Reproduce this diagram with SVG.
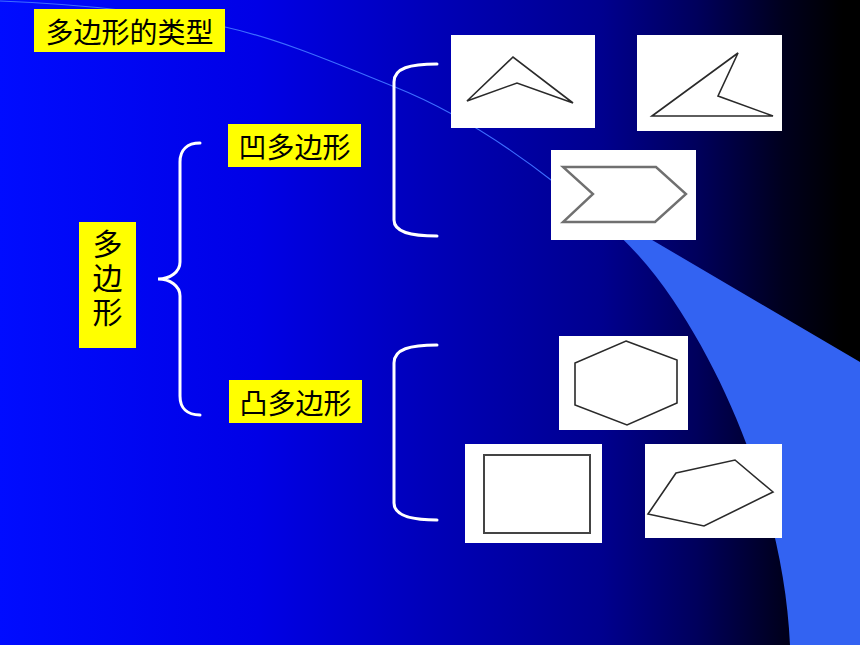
<svg xmlns="http://www.w3.org/2000/svg" width="860" height="645" viewBox="0 0 860 645">
<defs>
<linearGradient id="bg" x1="0" y1="0" x2="1" y2="0">
<stop offset="0" stop-color="#000cff"/>
<stop offset="0.3" stop-color="#0000e6"/>
<stop offset="0.51" stop-color="#0000b6"/>
<stop offset="0.7" stop-color="#00008e"/>
<stop offset="0.81" stop-color="#00005c"/>
<stop offset="0.91" stop-color="#00001e"/>
<stop offset="0.98" stop-color="#000000"/>
</linearGradient>
<style>
.lbl{fill:#ffff00}
.t{font-family:"Noto Sans CJK SC","Noto Sans CJK JP",sans-serif;fill:#000;text-anchor:middle;dominant-baseline:central}
.v{font-family:"Noto Sans CJK SC","Noto Sans CJK JP",sans-serif;fill:#000;writing-mode:vertical-rl;text-anchor:start;letter-spacing:4px}
.img{fill:#fff}
.poly{fill:none;stroke:#2a2a2a;stroke-width:1.6;stroke-linejoin:miter}
.soft{fill:none;stroke:#707070;stroke-width:2.4}
.brace{fill:none;stroke:#fff;stroke-width:3;stroke-linecap:round}
</style>
</defs>
<rect width="860" height="645" fill="url(#bg)"/>
<g id="swoosh">
<path d="M555,183 L860,362 L860,645 L790,645 C785,530 740,400 673,300 C640,250 600,215 555,183 Z" fill="#3363f2"/>
<path d="M0,1 C100,5 170,15 225,27 S340,65 395,87 S500,140 555,183" fill="none" stroke="#3d6dff" stroke-width="1.2"/>
</g>
<g id="title">
<rect class="lbl" x="34" y="9" width="191" height="43"/>
<text class="t" x="129.5" y="31" font-size="28">多边形的类型</text>
</g>
<g id="polygon">
<rect class="lbl" x="79" y="222" width="57" height="126"/>
<text class="v" x="107.5" y="229" font-size="30">多边形</text>
</g>
<g id="concave">
<rect class="lbl" x="228" y="124" width="133" height="43"/>
<text class="t" x="294.5" y="146" font-size="28">凹多边形</text>
</g>
<g id="convex">
<rect class="lbl" x="229" y="380" width="133" height="43"/>
<text class="t" x="295.5" y="402" font-size="28">凸多边形</text>
</g>
<g id="connectors">
<path class="brace" d="M200,143 C187,143 180,150 180,162 L180,262 C180,272 170,279 158,279 C170,279 180,286 180,296 L180,396 C180,408 187,415 200,415"/>
<path class="brace" d="M437,64 C410,64 394,68 394,82 L394,220 C394,232 410,236 437,236"/>
<path class="brace" d="M437,345 C410,345 394,349 394,363 L394,503 C394,515 410,520 437,520"/>
</g>
<g id="img1">
<rect class="img" x="451" y="35" width="144" height="93"/>
<polygon class="poly" points="467,101 513,57 573,103 517,83"/>
</g>
<g id="img2">
<rect class="img" x="637" y="35" width="145" height="96"/>
<polygon class="poly" points="652,116 738,53 718,96 773,116"/>
</g>
<g id="img3">
<rect class="img" x="551" y="150" width="145" height="90"/>
<polygon class="soft" points="563,167 656,167 686,194 655,222 563,222 593,194"/>
</g>
<g id="img4">
<rect class="img" x="559" y="336" width="129" height="94"/>
<polygon class="poly" points="626,341 677,360 677,403 627,425 575,405 575,363"/>
</g>
<g id="img5">
<rect class="img" x="465" y="444" width="137" height="99"/>
<rect x="484" y="455" width="106" height="78" fill="none" stroke="#444" stroke-width="2"/>
</g>
<g id="img6">
<rect class="img" x="645" y="444" width="137" height="94"/>
<polygon class="poly" points="676,473 735,460 773,492 704,526 648,514"/>
</g>
</svg>
